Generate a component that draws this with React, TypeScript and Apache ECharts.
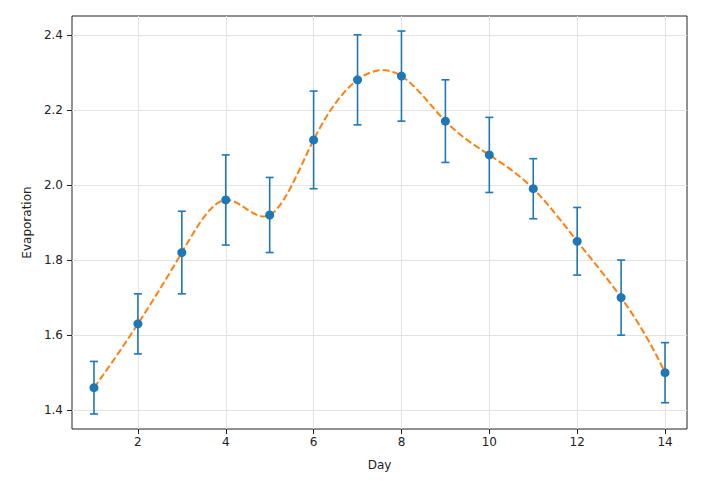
import React, { useEffect, useRef } from "react";
import * as echarts from "echarts";

const days = [1, 2, 3, 4, 5, 6, 7, 8, 9, 10, 11, 12, 13, 14];
const evaporation = [1.46, 1.63, 1.82, 1.96, 1.92, 2.12, 2.28, 2.29, 2.17, 2.08, 1.99, 1.85, 1.7, 1.5];
const errLow = [1.39, 1.55, 1.71, 1.84, 1.82, 1.99, 2.16, 2.17, 2.06, 1.98, 1.91, 1.76, 1.6, 1.42];
const errHigh = [1.53, 1.71, 1.93, 2.08, 2.02, 2.25, 2.4, 2.41, 2.28, 2.18, 2.07, 1.94, 1.8, 1.58];
const xTicks = [2, 4, 6, 8, 10, 12, 14];
const yTicks = [1.4, 1.6, 1.8, 2.0, 2.2, 2.4];

// Not-a-knot cubic spline second derivatives (used only to render the fitted curve).
function splineSecondDerivs(xs: number[], ys: number[]): number[] {
  const n = xs.length;
  const A: number[][] = Array.from({ length: n }, () => new Array(n + 1).fill(0));
  const h = (i: number) => xs[i + 1] - xs[i];
  // not-a-knot at start
  A[0][0] = h(1);
  A[0][1] = -(h(0) + h(1));
  A[0][2] = h(0);
  for (let i = 1; i < n - 1; i++) {
    A[i][i - 1] = h(i - 1);
    A[i][i] = 2 * (h(i - 1) + h(i));
    A[i][i + 1] = h(i);
    A[i][n] = 6 * ((ys[i + 1] - ys[i]) / h(i) - (ys[i] - ys[i - 1]) / h(i - 1));
  }
  A[n - 1][n - 3] = h(n - 2);
  A[n - 1][n - 2] = -(h(n - 3) + h(n - 2));
  A[n - 1][n - 1] = h(n - 3);
  for (let c = 0; c < n; c++) {
    let p = c;
    for (let r = c + 1; r < n; r++) if (Math.abs(A[r][c]) > Math.abs(A[p][c])) p = r;
    [A[c], A[p]] = [A[p], A[c]];
    for (let r = 0; r < n; r++) {
      if (r === c) continue;
      const f = A[r][c] / A[c][c];
      for (let k = c; k <= n; k++) A[r][k] -= f * A[c][k];
    }
  }
  return A.map((row, i) => row[n] / row[i]);
}

function splineAt(xs: number[], ys: number[], M: number[], x: number): number {
  let i = 0;
  while (i < xs.length - 2 && x > xs[i + 1]) i++;
  const h = xs[i + 1] - xs[i];
  const a = (xs[i + 1] - x) / h;
  const b = (x - xs[i]) / h;
  return (
    a * ys[i] +
    b * ys[i + 1] +
    ((a * a * a - a) * M[i] + (b * b * b - b) * M[i + 1]) * (h * h) / 6
  );
}

export default function App() {
  const ref = useRef<HTMLDivElement>(null);
  useEffect(() => {
    document.body.style.margin = "0";
    const chart = echarts.init(ref.current!, null, { renderer: "svg" });
    const font = "DejaVu Sans";
    const pts = days.map((d, i) => [d, evaporation[i]]);
    const errs = days.map((d, i) => [d, errLow[i], errHigh[i]]);
    const M = splineSecondDerivs(days, evaporation);
    chart.setOption({
      animation: false,
      backgroundColor: "#ffffff",
      grid: {
        left: 72,
        right: 19,
        top: 16,
        bottom: 58,
        show: true,
        borderColor: "#222",
        borderWidth: 1,
        backgroundColor: "transparent",
      },
      xAxis: {
        type: "value",
        min: 0.5,
        max: 14.5,
        name: "Day",
        nameLocation: "middle",
        nameGap: 30,
        nameTextStyle: { fontFamily: font, fontSize: 12, color: "#222" },
        axisLine: { show: false },
        axisTick: { show: true, length: 5, customValues: xTicks, lineStyle: { color: "#222" } },
        axisLabel: { customValues: xTicks, fontFamily: font, fontSize: 12, color: "#222", margin: 7 },
        splitLine: { show: true, lineStyle: { color: "#e3e3e3", width: 1 } },
      },
      yAxis: {
        type: "value",
        min: 1.35,
        max: 2.45,
        name: "Evaporation",
        nameLocation: "middle",
        nameGap: 38,
        nameTextStyle: { fontFamily: font, fontSize: 12, color: "#222" },
        axisLine: { show: false },
        axisTick: { show: true, length: 5, customValues: yTicks, lineStyle: { color: "#222" } },
        axisLabel: {
          customValues: yTicks,
          fontFamily: font,
          fontSize: 12,
          color: "#222",
          margin: 9,
          formatter: (v: number) => v.toFixed(1),
        },
        splitLine: { show: true, lineStyle: { color: "#e3e3e3", width: 1 } },
      },
      series: [
        {
          type: "custom",
          data: errs,
          z: 2,
          renderItem: (params: any, api: any) => {
            const x = api.value(0);
            const lo = api.coord([x, api.value(1)]);
            const hi = api.coord([x, api.value(2)]);
            const style = { stroke: "#1f77b4", lineWidth: 1.6 };
            const cw = 4;
            return {
              type: "group",
              children: [
                { type: "line", shape: { x1: lo[0], y1: lo[1], x2: hi[0], y2: hi[1] }, style },
                { type: "line", shape: { x1: lo[0] - cw, y1: lo[1], x2: lo[0] + cw, y2: lo[1] }, style },
                { type: "line", shape: { x1: hi[0] - cw, y1: hi[1], x2: hi[0] + cw, y2: hi[1] }, style },
              ],
            };
          },
        },
        {
          type: "custom",
          data: [pts[0]],
          z: 3,
          renderItem: (params: any, api: any) => {
            const x0 = days[0];
            const x1 = days[days.length - 1];
            const steps = 300;
            const points: number[][] = [];
            for (let k = 0; k <= steps; k++) {
              const x = x0 + ((x1 - x0) * k) / steps;
              points.push(api.coord([x, splineAt(days, evaporation, M, x)]));
            }
            return {
              type: "polyline",
              shape: { points },
              style: { stroke: "#ff7f0e", lineWidth: 2, fill: "none", lineDash: [7, 3] },
            };
          },
        },
        {
          type: "scatter",
          data: pts,
          symbolSize: 9,
          z: 4,
          itemStyle: { color: "#1f77b4", opacity: 1 },
        },
      ],
    });
    return () => chart.dispose();
  }, []);
  return <div ref={ref} style={{ width: 706, height: 487 }} />;
}
